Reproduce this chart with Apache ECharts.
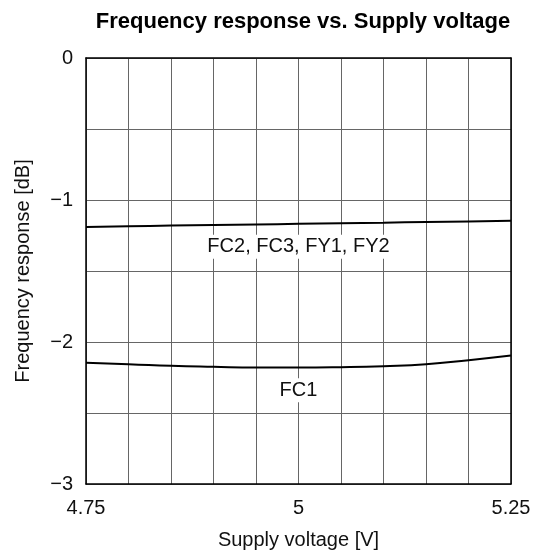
<!DOCTYPE html>
<html>
<head>
<meta charset="utf-8">
<script src="https://cdn.jsdelivr.net/npm/echarts@6/dist/echarts.min.js"></script>
<style>
  html, body { margin: 0; padding: 0; background: #fff; }
  #chartDom { width: 539px; height: 558px; }
</style>
</head>
<body>
<div id="chartDom"></div>
<script>
// supply voltage steps (V)
var voltage = [4.75, 4.80, 4.85, 4.90, 4.95, 5.00, 5.05, 5.10, 5.15, 5.20, 5.25];
// FC2, FC3, FY1, FY2 curve (dB)
var fcGroup = [-1.190, -1.185, -1.180, -1.176, -1.172, -1.168, -1.164, -1.160, -1.155, -1.151, -1.147];
// FC1 curve (dB)
var fc1 = [-2.147, -2.156, -2.168, -2.175, -2.180, -2.180, -2.177, -2.170, -2.157, -2.128, -2.095];
// tick labels that are shown
var xLabels = ['4.75', '5', '5.25'];
var yLabels = ['0', '-1', '-2', '-3'];

function pairs(xs, ys) {
  return xs.map(function (x, i) { return [x, ys[i]]; });
}

var chartDom = document.getElementById('chartDom');
var myChart = echarts.init(chartDom);
var font = 'Liberation Sans, Arial, sans-serif';
var gridLine = { show: true, lineStyle: { color: '#666', width: 1 } };

var option = {
  animation: false,
  backgroundColor: '#fff',
  textStyle: { fontFamily: font },
  title: {
    text: 'Frequency response vs. Supply voltage',
    left: 298,
    top: 6,
    textAlign: 'center',
    textStyle: { fontFamily: font, fontSize: 22, fontWeight: 'bold', color: '#000' }
  },
  grid: { left: 86, right: 28, top: 58, bottom: 74 },
  xAxis: [
    {
      type: 'value',
      min: 4.75,
      max: 5.25,
      interval: 0.05,
      name: 'Supply voltage [V]',
      nameLocation: 'middle',
      nameGap: 46,
      nameTextStyle: { fontFamily: font, fontSize: 20, color: '#111' },
      axisLine: { show: true, onZero: false, lineStyle: { color: '#000', width: 1.5 } },
      axisTick: { show: false },
      splitLine: gridLine,
      axisLabel: {
        margin: 14,
        fontFamily: font,
        fontSize: 20,
        color: '#111',
        showMinLabel: true,
        showMaxLabel: true,
        formatter: function (v) {
          var s = String(Math.round(v * 100) / 100);
          return xLabels.indexOf(s) >= 0 ? s : '';
        }
      }
    },
    {
      type: 'value',
      position: 'top',
      min: 4.75,
      max: 5.25,
      axisLine: { show: true, lineStyle: { color: '#000', width: 1.5 } },
      axisTick: { show: false },
      axisLabel: { show: false },
      splitLine: { show: false }
    }
  ],
  yAxis: [
    {
      type: 'value',
      min: -3,
      max: 0,
      interval: 0.5,
      name: 'Frequency response [dB]',
      nameLocation: 'middle',
      nameGap: 53,
      nameTextStyle: { fontFamily: font, fontSize: 20, color: '#111' },
      axisLine: { show: true, onZero: false, lineStyle: { color: '#000', width: 1.5 } },
      axisTick: { show: false },
      splitLine: gridLine,
      axisLabel: {
        margin: 13,
        fontFamily: font,
        fontSize: 20,
        color: '#111',
        formatter: function (v) {
          var s = String(Math.round(v * 10) / 10);
          return yLabels.indexOf(s) >= 0 ? s.replace('-', '\u2212') : '';
        }
      }
    },
    {
      type: 'value',
      position: 'right',
      min: -3,
      max: 0,
      axisLine: { show: true, lineStyle: { color: '#000', width: 1.5 } },
      axisTick: { show: false },
      axisLabel: { show: false },
      splitLine: { show: false }
    }
  ],
  series: [
    {
      name: 'FC2, FC3, FY1, FY2',
      type: 'line',
      smooth: true,
      showSymbol: false,
      lineStyle: { color: '#000', width: 2 },
      data: pairs(voltage, fcGroup),
      markPoint: {
        symbol: 'rect',
        symbolSize: 0,
        label: {
          show: true,
          position: 'inside',
          formatter: 'FC2, FC3, FY1, FY2',
          fontFamily: font,
          fontSize: 20,
          color: '#111',
          backgroundColor: '#fff',
          padding: [2, 2]
        },
        data: [{ coord: [5.0, -1.33] }]
      }
    },
    {
      name: 'FC1',
      type: 'line',
      smooth: true,
      showSymbol: false,
      lineStyle: { color: '#000', width: 2 },
      data: pairs(voltage, fc1),
      markPoint: {
        symbol: 'rect',
        symbolSize: 0,
        label: {
          show: true,
          position: 'inside',
          formatter: 'FC1',
          fontFamily: font,
          fontSize: 20,
          color: '#111',
          backgroundColor: '#fff',
          padding: [2, 2]
        },
        data: [{ coord: [5.0, -2.34] }]
      }
    }
  ]
};
option && myChart.setOption(option);
</script>
</body>
</html>
